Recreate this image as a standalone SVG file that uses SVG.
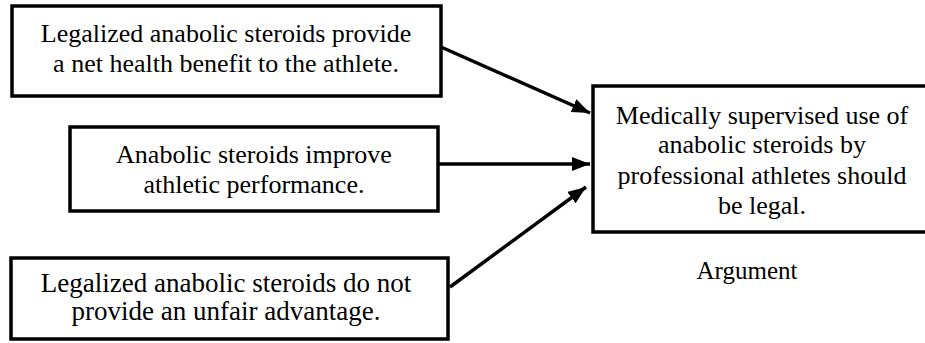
<svg xmlns="http://www.w3.org/2000/svg" width="925" height="343" viewBox="0 0 925 343">
<style>
.box{fill:#fff;stroke:#000;stroke-width:3.5}
.t{font-family:"Liberation Serif","Times New Roman",serif;font-size:26px;fill:#000;text-anchor:middle}
.c{stroke:#000;stroke-width:3.5;fill:none}
</style>
<defs>
<marker id="ah" markerUnits="userSpaceOnUse" markerWidth="20" markerHeight="16" refX="18" refY="7" orient="auto">
<path d="M0,0 L18,7 L0,14 Z" fill="#000"/>
</marker>
</defs>
<rect width="925" height="343" fill="#fff"/>
<g id="n1">
<rect class="box" x="12" y="6" width="429" height="90"/>
<text class="t" x="226" y="42">Legalized anabolic steroids provide</text>
<text class="t" x="226" y="72">a net health benefit to the athlete.</text>
</g>
<g id="n2">
<rect class="box" x="70" y="127" width="368" height="84"/>
<text class="t" x="254" y="163">Anabolic steroids improve</text>
<text class="t" x="254" y="193">athletic performance.</text>
</g>
<g id="n3">
<rect class="box" x="11" y="258" width="437" height="81"/>
<text class="t" x="226" y="292" style="font-size:27px">Legalized anabolic steroids do not</text>
<text class="t" x="226" y="320" style="font-size:27px">provide an unfair advantage.</text>
</g>
<g id="main">
<rect class="box" x="593" y="86" width="340" height="146"/>
<text class="t" x="762" y="124">Medically supervised use of</text>
<text class="t" x="762" y="153">anabolic steroids by</text>
<text class="t" x="762" y="184">professional athletes should</text>
<text class="t" x="762" y="214">be legal.</text>
</g>
<g id="label">
<text class="t" x="747" y="279" style="font-size:25px">Argument</text>
</g>
<g id="connectors">
<line class="c" x1="441" y1="47" x2="590" y2="113" marker-end="url(#ah)"/>
<line class="c" x1="438" y1="164" x2="590" y2="164" marker-end="url(#ah)"/>
<line class="c" x1="450" y1="287" x2="586" y2="187" marker-end="url(#ah)"/>
</g>
</svg>
